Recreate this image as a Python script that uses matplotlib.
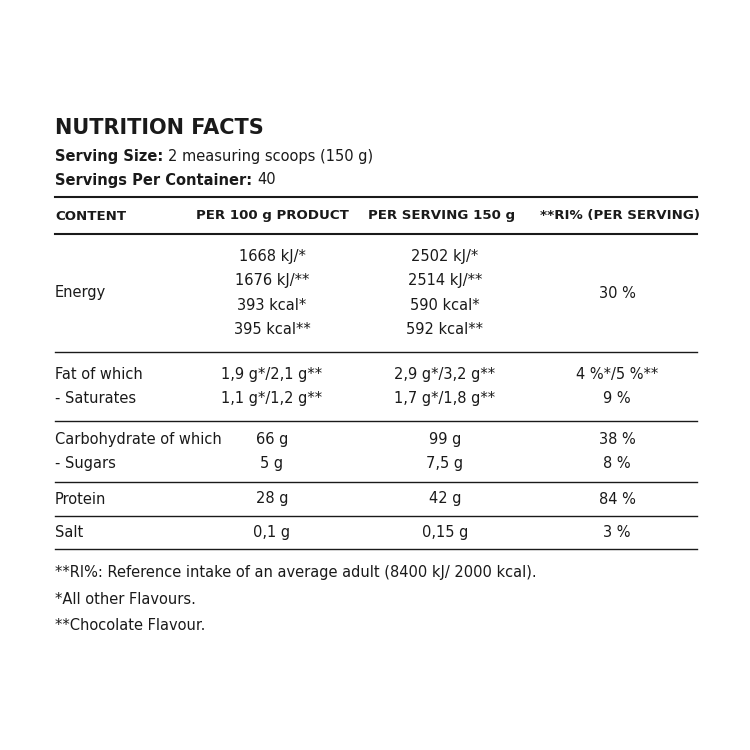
import matplotlib
matplotlib.use("Agg")
import matplotlib.pyplot as plt

FAM = ['DejaVu Sans']
title = "NUTRITION FACTS"
serving_size = "2 measuring scoops (150 g)"
servings = "40"
headers = ["CONTENT", "PER 100 g PRODUCT", "PER SERVING 150 g", "**RI% (PER SERVING)"]
rows = [
    (["Energy"], ["1668 kJ/*", "1676 kJ/**", "393 kcal*", "395 kcal**"],
     ["2502 kJ/*", "2514 kJ/**", "590 kcal*", "592 kcal**"], ["30 %"]),
    (["Fat of which", "- Saturates"], ["1,9 g*/2,1 g**", "1,1 g*/1,2 g**"],
     ["2,9 g*/3,2 g**", "1,7 g*/1,8 g**"], ["4 %*/5 %**", "9 %"]),
    (["Carbohydrate of which", "- Sugars"], ["66 g", "5 g"], ["99 g", "7,5 g"], ["38 %", "8 %"]),
    (["Protein"], ["28 g"], ["42 g"], ["84 %"]),
    (["Salt"], ["0,1 g"], ["0,15 g"], ["3 %"]),
]
footnotes = ["**RI%: Reference intake of an average adult (8400 kJ/ 2000 kcal).",
             "*All other Flavours.", "**Chocolate Flavour."]

fig = plt.figure(figsize=(7.5, 7.5), dpi=100)
ax = fig.add_axes([0, 0, 1, 1])
ax.set_xlim(0, 750); ax.set_ylim(750, 0); ax.axis('off')
c = '#1a1a1a'
fs = 10.5
hfs = 9.6
L = 55; R = 697
colx = [272, 445, 617]
hx = [272, 442, 620]

ax.text(L, 128, title, fontsize=15, fontweight='bold', family=FAM, va='center', color=c)
t = ax.text(L, 156, "Serving Size: ", fontsize=fs, fontweight='bold', family=FAM, va='center', color=c)
fig.canvas.draw()
r = fig.canvas.get_renderer()
bb = t.get_window_extent(r)
ax.text(L + bb.width, 156, serving_size, fontsize=fs, family=FAM, va='center', color=c)
t2 = ax.text(L, 180, "Servings Per Container: ", fontsize=fs, fontweight='bold', family=FAM, va='center', color=c)
bb2 = t2.get_window_extent(r)
ax.text(L + bb2.width, 180, servings, fontsize=fs, family=FAM, va='center', color=c)

ax.plot([L, R], [197, 197], color=c, lw=1.5)
ax.text(L, 216, headers[0], fontsize=hfs, fontweight='bold', family=FAM, va='center', color=c)
for x, h in zip(hx, headers[1:]):
    ax.text(x, 216, h, fontsize=hfs, fontweight='bold', family=FAM, va='center', ha='center', color=c)
ax.plot([L, R], [234, 234], color=c, lw=1.5)

bounds = [(234, 352), (352, 421), (421, 482), (482, 516), (516, 549)]
lh = 24.5
for (top, bot), (lab, v1, v2, v3) in zip(bounds, rows):
    mid = (top + bot) / 2
    for col, vals in [(None, lab), (0, v1), (1, v2), (2, v3)]:
        n = len(vals)
        for i, s in enumerate(vals):
            y = mid + (i - (n - 1) / 2) * lh
            if col is None:
                ax.text(L, y, s, fontsize=fs, family=FAM, va='center', color=c)
            else:
                ax.text(colx[col], y, s, fontsize=fs, family=FAM, va='center', ha='center', color=c)
    ax.plot([L, R], [bot, bot], color=c, lw=1.0)

for y, s in zip([573, 599, 626], footnotes):
    ax.text(L, y, s, fontsize=fs, family=FAM, va='center', color=c)

fig.savefig("out.png", dpi=100, facecolor='white')
